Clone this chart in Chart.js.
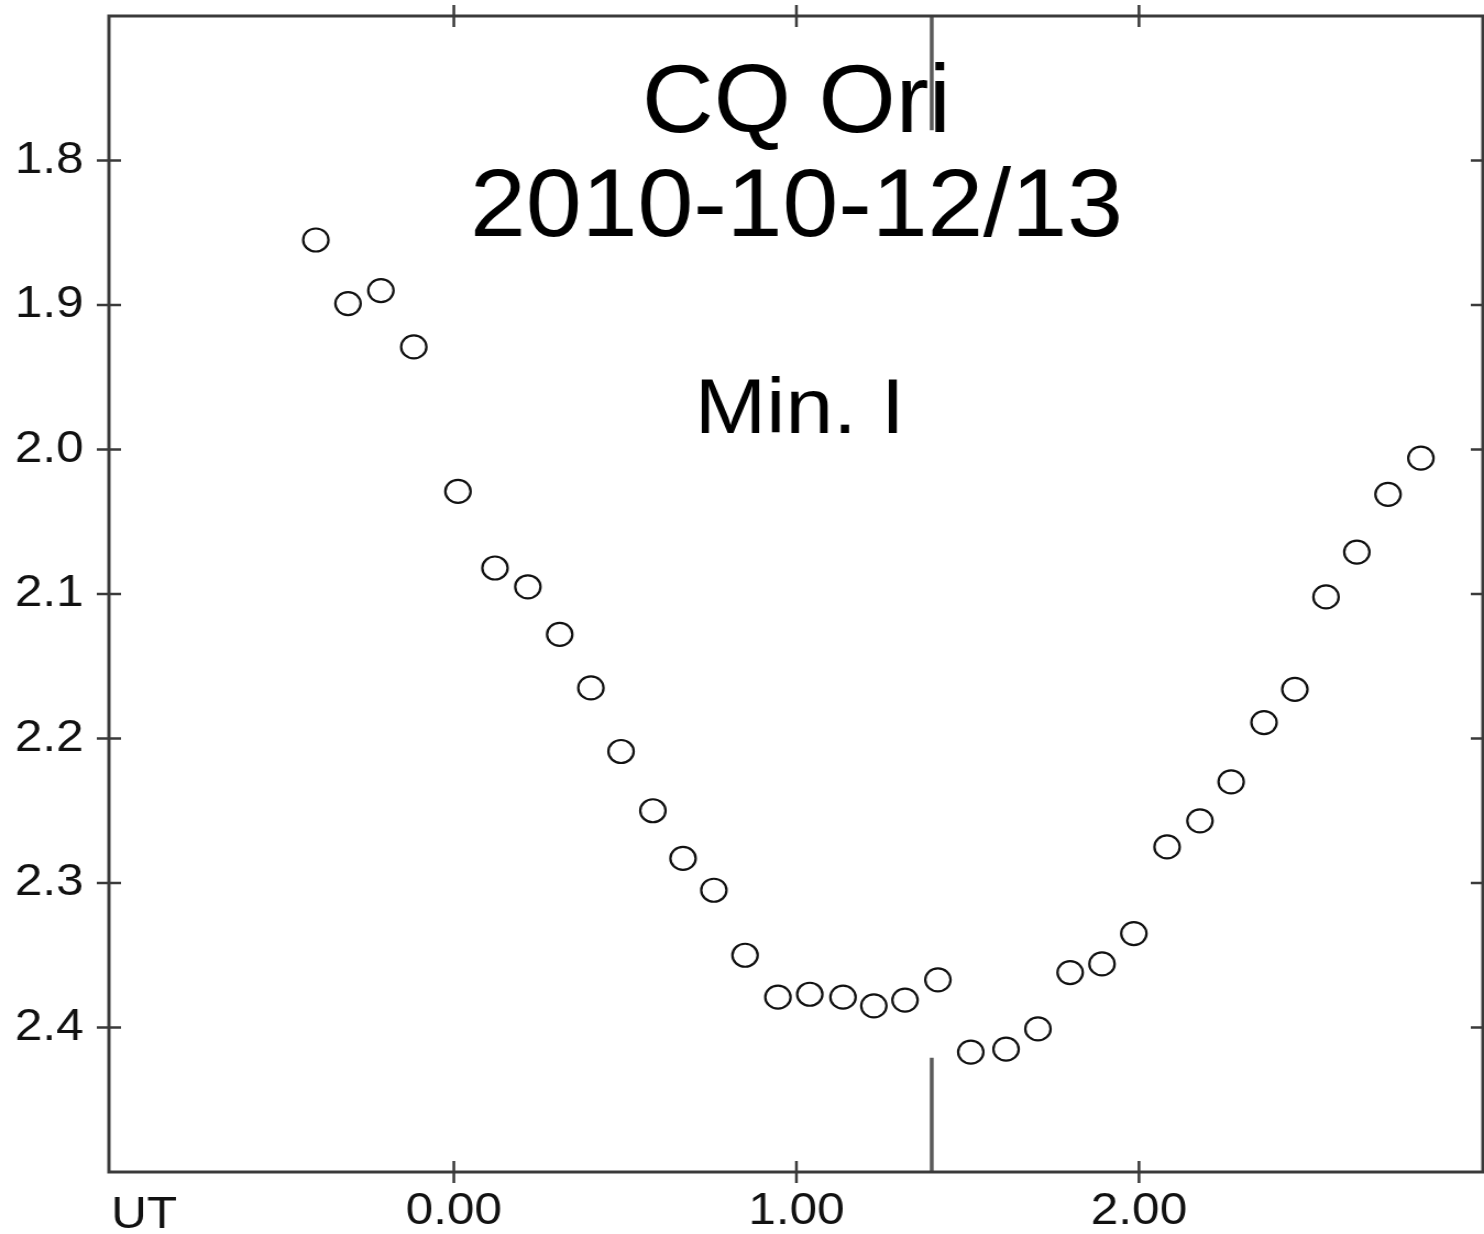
<!DOCTYPE html>
<html>
<head>
<meta charset="utf-8">
<title>CQ Ori 2010-10-12/13</title>
<script src="https://cdn.jsdelivr.net/npm/chart.js@4.4.1/dist/chart.umd.min.js"></script>
<style>
    html, body { margin: 0; padding: 0; background: #fff; overflow: hidden; }
    /* the original plot is a little stretched sideways, so the canvas is drawn narrower and scaled up */
    #lightCurve { display: block; }
</style>
</head>
<body>
<canvas id="lightCurve" width="1349" height="1234" style="width:1484px;height:1234px"></canvas>
<script>
// --- Data ---
const utHours = [-0.403, -0.309, -0.213, -0.117, 0.012, 0.120, 0.216, 0.309, 0.400, 0.488,
                 0.581, 0.669, 0.759, 0.850, 0.946, 1.039, 1.136, 1.226, 1.317, 1.413,
                 1.509, 1.612, 1.705, 1.799, 1.892, 1.985, 2.082, 2.178, 2.269, 2.365,
                 2.455, 2.546, 2.636, 2.727, 2.823];
const magnitudes = [1.855, 1.899, 1.890, 1.929, 2.029, 2.082, 2.095, 2.128, 2.165, 2.209,
                    2.250, 2.283, 2.305, 2.350, 2.379, 2.377, 2.379, 2.385, 2.381, 2.367,
                    2.417, 2.415, 2.401, 2.362, 2.356, 2.335, 2.275, 2.257, 2.230, 2.189,
                    2.166, 2.102, 2.071, 2.031, 2.006];

// time of minimum and the two short marker pieces (magnitude ranges)
const minTime = 1.395;
const minMarkTop = [1.700, 1.779];
const minMarkBottom = [2.421, 2.500];

const xTickValues = [0, 1, 2];
const yTickValues = [1.8, 1.9, 2.0, 2.1, 2.2, 2.3, 2.4];
const titleLines = ['CQ Ori', '2010-10-12/13'];
const minLabel = 'Min. I';
const xAxisName = 'UT';

const FONT = '"Liberation Sans", Arial, Helvetica, sans-serif';
const AXIS_COLOR = '#3a3a3a';

// draws centred text, squeezed a bit sideways
function squeezedText(ctx, text, cx, y, sx) {
    ctx.save();
    ctx.translate(cx, y);
    ctx.scale(sx, 1);
    ctx.fillText(text, 0, 0);
    ctx.restore();
}

// --- Frame, crossing ticks and the texts inside the plot ---
const frameAndText = {
    id: 'frameAndText',
    beforeDatasetsDraw(chart) {
        const { ctx, scales: { x } } = chart;
        const cx = x.getPixelForValue(1.0);
        ctx.save();
        ctx.fillStyle = '#000';
        ctx.textAlign = 'center';
        ctx.textBaseline = 'alphabetic';
        ctx.font = '96px ' + FONT;
        squeezedText(ctx, titleLines[0], cx, 132, 0.94);
        squeezedText(ctx, titleLines[1], cx, 236, 0.95);
        ctx.font = '78px ' + FONT;
        squeezedText(ctx, minLabel, cx + 3, 433, 1.0);
        ctx.restore();
    },
    afterDraw(chart) {
        const { ctx, chartArea: a, scales: { x, y } } = chart;
        const t = 11;
        ctx.save();
        ctx.strokeStyle = AXIS_COLOR;
        ctx.lineWidth = 3;
        ctx.strokeRect(a.left, a.top, a.right - a.left, a.bottom - a.top);

        ctx.lineWidth = 2.5;
        ctx.beginPath();
        yTickValues.forEach(v => {
            const py = y.getPixelForValue(v);
            ctx.moveTo(a.left - t, py);
            ctx.lineTo(a.left + t, py);
            ctx.moveTo(a.right - t, py);
            ctx.lineTo(a.right + t, py);
        });
        xTickValues.forEach(v => {
            const px = x.getPixelForValue(v);
            ctx.moveTo(px, a.top - t);
            ctx.lineTo(px, a.top + t);
            ctx.moveTo(px, a.bottom - t);
            ctx.lineTo(px, a.bottom + t);
        });
        ctx.stroke();

        // axis name sits on the tick label row, at the left edge
        ctx.fillStyle = '#111';
        ctx.font = '45px ' + FONT;
        ctx.textAlign = 'left';
        ctx.textBaseline = 'alphabetic';
        ctx.fillText(xAxisName, a.left + 2, 1228);
        ctx.restore();
    }
};

// --- Chart ---
const ctx = document.getElementById('lightCurve').getContext('2d');
new Chart(ctx, {
    data: {
        datasets: [
            {
                type: 'scatter',
                label: 'magnitude',
                data: utHours.map((t, i) => ({ x: t, y: magnitudes[i] })),
                pointStyle: 'circle',
                pointRadius: 11.5,
                pointBorderWidth: 2.2,
                pointBorderColor: '#111',
                pointBackgroundColor: 'rgba(0,0,0,0)'
            },
            {
                type: 'line',
                label: 'min top',
                data: minMarkTop.map(m => ({ x: minTime, y: m })),
                borderColor: '#5a5a5a',
                borderWidth: 3.5,
                pointRadius: 0
            },
            {
                type: 'line',
                label: 'min bottom',
                data: minMarkBottom.map(m => ({ x: minTime, y: m })),
                borderColor: '#5a5a5a',
                borderWidth: 3.5,
                pointRadius: 0
            }
        ]
    },
    options: {
        responsive: false,
        devicePixelRatio: 1,
        animation: false,
        events: [],
        layout: { autoPadding: false, padding: { top: 16, right: 1, left: 0, bottom: 0 } },
        plugins: {
            legend: { display: false },
            tooltip: { enabled: false }
        },
        scales: {
            x: {
                type: 'linear',
                position: 'bottom',
                min: -1.007,
                max: 3.004,
                afterBuildTicks: s => { s.ticks = xTickValues.map(v => ({ value: v })); },
                afterFit: s => { s.height = 62; s.paddingLeft = 0; s.paddingRight = 0; },
                grid: { display: false, drawTicks: false },
                border: { display: false },
                ticks: {
                    padding: 13,
                    color: '#111',
                    font: { family: FONT, size: 45 },
                    callback: v => Number(v).toFixed(2)
                }
            },
            y: {
                type: 'linear',
                position: 'left',
                reverse: true,
                min: 1.7,
                max: 2.5,
                afterBuildTicks: s => { s.ticks = yTickValues.map(v => ({ value: v })); },
                afterFit: s => { s.width = 99; s.paddingTop = 0; s.paddingBottom = 0; },
                grid: { display: false, drawTicks: false },
                border: { display: false },
                ticks: {
                    padding: 23,
                    color: '#111',
                    font: { family: FONT, size: 45 },
                    callback: v => Number(v).toFixed(1)
                }
            }
        }
    },
    plugins: [frameAndText]
});
</script>
</body>
</html>
